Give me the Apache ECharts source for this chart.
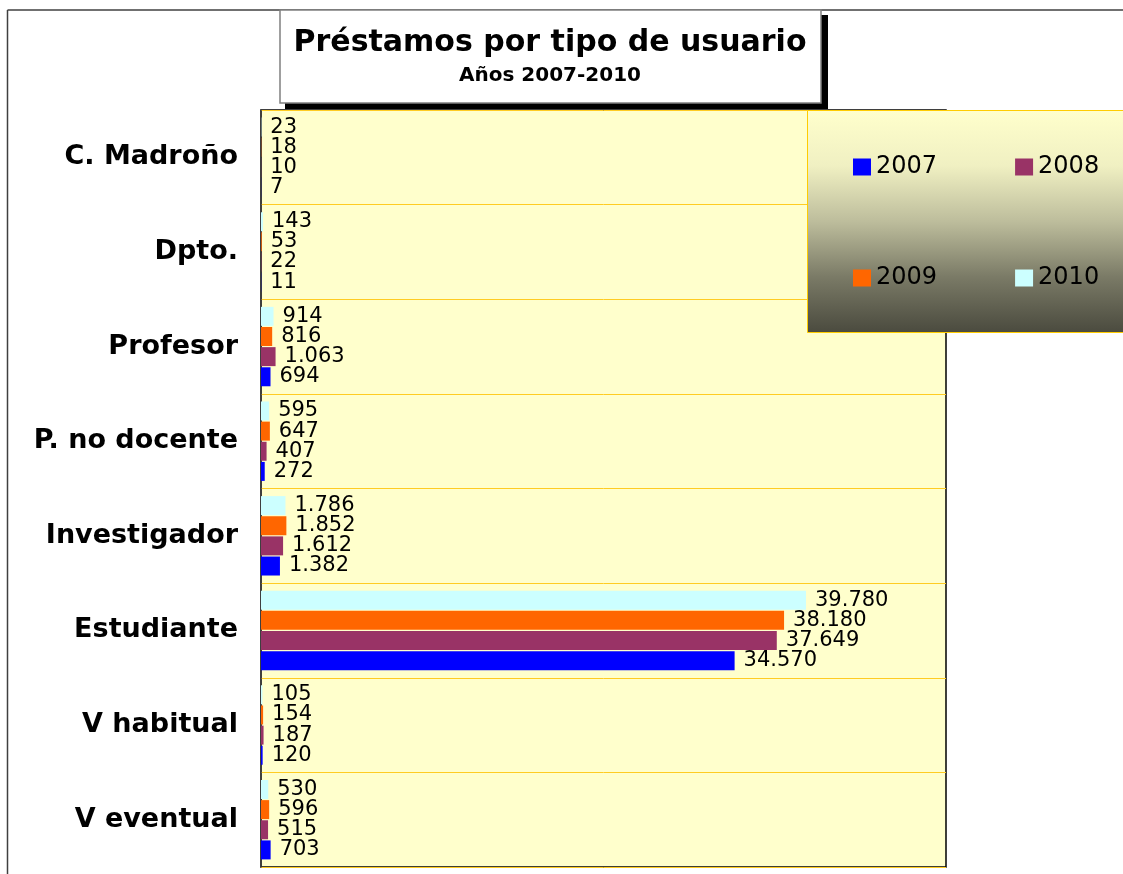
<!DOCTYPE html>
<html>
<head>
<meta charset="utf-8">
<script src="https://cdn.jsdelivr.net/npm/echarts@6/dist/echarts.min.js"></script>
<style>html,body{margin:0;padding:0;background:#fff;}#chart{width:1123px;height:874px;}</style>
</head>
<body>
<div id="chart"></div>
<script>
const categories = ['C. Madroño', 'Dpto.', 'Profesor', 'P. no docente', 'Investigador', 'Estudiante', 'V habitual', 'V eventual'];
const years = ['2007', '2008', '2009', '2010'];
const v2007 = [7, 11, 694, 272, 1382, 34570, 120, 703];
const v2008 = [10, 22, 1063, 407, 1612, 37649, 187, 515];
const v2009 = [18, 53, 816, 647, 1852, 38180, 154, 596];
const v2010 = [23, 143, 914, 595, 1786, 39780, 105, 530];
const titleText = 'Préstamos por tipo de usuario';
const subtitleText = 'Años 2007-2010';

const colors = { '2007': '#0000FF', '2008': '#993366', '2009': '#FF6600', '2010': '#CCFFFF' };
const valuesByYear = { '2007': v2007, '2008': v2008, '2009': v2009, '2010': v2010 };
const FONT = 'DejaVu Sans';

function fmt(v) { return String(v).replace(/\B(?=(\d{3})+(?!\d))/g, '.'); }

const chart = echarts.init(document.getElementById('chart'), null, { renderer: 'canvas' });

// series drawn top-to-bottom inside each category: 2010, 2009, 2008, 2007
const seriesOrder = ['2010', '2009', '2008', '2007'];
const series = seriesOrder.map(y => ({
  name: y,
  type: 'bar',
  data: valuesByYear[y],
  barWidth: 19,
  barGap: '6%',
  itemStyle: { color: colors[y] },
  label: {
    show: true,
    position: 'right',
    distance: 9,
    formatter: p => fmt(p.value),
    fontFamily: FONT,
    fontSize: 21,
    color: '#000'
  }
}));

const option = {
  animation: false,
  backgroundColor: '#fff',
  grid: {
    left: 261, right: 177, top: 110, bottom: 7,
    show: true,
    backgroundColor: '#FFFFCC',
    borderColor: '#000',
    borderWidth: 1.5,
    containLabel: false
  },
  xAxis: {
    type: 'value', min: 0, max: 50000, interval: 10000,
    axisLabel: { show: false }, axisTick: { show: false }, axisLine: { show: false },
    splitLine: { show: false }
  },
  yAxis: {
    type: 'category', data: categories, inverse: true,
    axisTick: { show: false },
    axisLine: { show: true, lineStyle: { color: '#404040', width: 1.5 } },
    splitLine: { show: true, lineStyle: { color: '#FFCC22', width: 1 } },
    axisLabel: { fontFamily: FONT, fontWeight: 'bold', fontSize: 27, color: '#000', margin: 23, padding: [6, 0, 0, 0] }
  },
  legend: [
    {
      data: ['2007', '2008'], left: 848, top: 150, orient: 'horizontal',
      itemWidth: 18, itemHeight: 17, itemGap: 78, icon: 'rect', selectedMode: false,
      textStyle: { fontFamily: FONT, fontSize: 24, color: '#000', padding: [0, 0, 0, 0] },
      z: 10
    },
    {
      data: ['2009', '2010'], left: 848, top: 261, orient: 'horizontal',
      itemWidth: 18, itemHeight: 17, itemGap: 78, icon: 'rect', selectedMode: false,
      textStyle: { fontFamily: FONT, fontSize: 24, color: '#000', padding: [0, 0, 0, 0] },
      z: 10
    }
  ],
  graphic: [
    { type: 'line', shape: { x1: 7.5, y1: 10, x2: 1123, y2: 10 }, style: { stroke: '#404040', lineWidth: 1.5 }, z: 5 },
    { type: 'line', shape: { x1: 7.5, y1: 10, x2: 7.5, y2: 874 }, style: { stroke: '#404040', lineWidth: 1.5 }, z: 5 },
    { type: 'rect', shape: { x: 285, y: 15, width: 543, height: 94 }, style: { fill: '#000' }, z: 6 },
    { type: 'rect', shape: { x: 280, y: 10, width: 541, height: 93 }, style: { fill: '#fff', stroke: '#808080', lineWidth: 1.5 }, z: 7 },
    { type: 'text', x: 550, y: 43, style: { text: titleText, fontFamily: FONT, fontWeight: 'bold', fontSize: 30, fill: '#000', align: 'center', verticalAlign: 'middle' }, z: 8 },
    { type: 'text', x: 550, y: 76, style: { text: subtitleText, fontFamily: FONT, fontWeight: 'bold', fontSize: 20, fill: '#000', align: 'center', verticalAlign: 'middle' }, z: 8 },
    {
      type: 'rect', shape: { x: 807.5, y: 110.5, width: 330, height: 222 },
      style: {
        fill: new echarts.graphic.LinearGradient(0, 0, 0, 1, [
          { offset: 0, color: '#FFFFCC' },
          { offset: 0.25, color: '#F0F0C2' },
          { offset: 0.5, color: '#BDBD9C' },
          { offset: 0.75, color: '#7A7A66' },
          { offset: 1, color: '#4A4A3E' }
        ]),
        stroke: '#FFCC00', lineWidth: 1
      },
      z: 6
    }
  ],
  series: series
};
chart.setOption(option);
</script>
</body>
</html>
